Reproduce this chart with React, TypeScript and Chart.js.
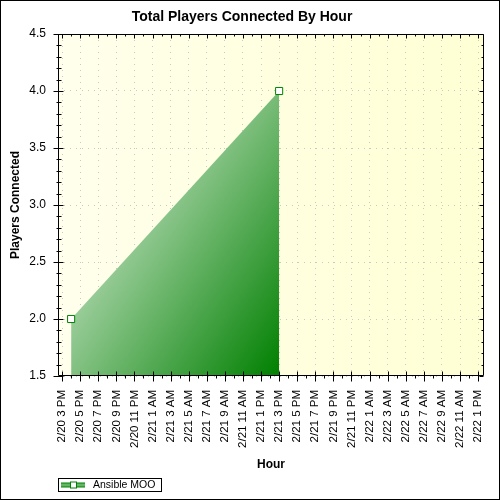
import React, { useEffect, useRef } from 'react';
import { Chart, registerables } from 'chart.js';

Chart.register(...registerables);

const chartTitle = 'Total Players Connected By Hour';
const xAxisTitle = 'Hour';
const yAxisTitle = 'Players Connected';
const seriesName = 'Ansible MOO';

// Major tick labels, one every 2 hours starting at 2/20 3 PM (hour 0)
const xTickLabels = [
  '2/20 3 PM', '2/20 5 PM', '2/20 7 PM', '2/20 9 PM', '2/20 11 PM',
  '2/21 1 AM', '2/21 3 AM', '2/21 5 AM', '2/21 7 AM', '2/21 9 AM', '2/21 11 AM',
  '2/21 1 PM', '2/21 3 PM', '2/21 5 PM', '2/21 7 PM', '2/21 9 PM', '2/21 11 PM',
  '2/22 1 AM', '2/22 3 AM', '2/22 5 AM', '2/22 7 AM', '2/22 9 AM', '2/22 11 AM',
  '2/22 1 PM',
];

// Series: hours after 2/20 3 PM, and players connected
const seriesHours = [1, 24];
const seriesValues = [2.0, 4.0];

// Axis bounds
const xMin = -0.45;
const xMax = 46.65;
const yMin = 1.5;
const yMax = 4.5;

const FONT = '"Liberation Sans", Arial, sans-serif';

export default function App() {
  const ref = useRef<HTMLCanvasElement>(null);

  useEffect(() => {
    document.body.style.margin = '0';
    document.body.style.overflow = 'hidden';
    const canvas = ref.current;
    if (!canvas) return;

    const align = (v: number) => Math.round(v) + 0.5;

    const framePlugin = {
      id: 'framePlugin',
      beforeDraw(chart: any) {
        const { ctx, chartArea: a } = chart;
        ctx.save();
        ctx.fillStyle = '#ffffff';
        ctx.fillRect(0, 0, chart.width, chart.height);
        const g = ctx.createLinearGradient(a.left, 0, a.right, 0);
        g.addColorStop(0, 'rgb(255,255,236)');
        g.addColorStop(1, 'rgb(255,255,212)');
        ctx.fillStyle = g;
        ctx.fillRect(a.left, a.top, a.right - a.left, a.bottom - a.top);
        ctx.restore();
      },
      afterDraw(chart: any) {
        const { ctx, chartArea: a, scales } = chart;
        const xs = scales.x;
        const ys = scales.y;
        const L = Math.round(a.left) + 0.5;
        const T = Math.round(a.top) + 0.5;
        const R = Math.round(a.right) - 0.5;
        const B = Math.round(a.bottom) - 0.5;
        ctx.save();
        ctx.strokeStyle = '#000';
        ctx.lineWidth = 1;
        ctx.setLineDash([]);
        ctx.beginPath();
        ctx.rect(L, T, R - L, B - T);
        // x ticks (major every 2h, minor every 1h)
        for (let h = Math.ceil(xMin); h <= Math.floor(xMax); h++) {
          const px = align(xs.getPixelForValue(h));
          const major = h % 2 === 0;
          if (major) {
            ctx.moveTo(px, B - 4); ctx.lineTo(px, B + 6);
            ctx.moveTo(px, T); ctx.lineTo(px, T + 4);
          } else {
            ctx.moveTo(px, B); ctx.lineTo(px, B + 3);
            ctx.moveTo(px, T); ctx.lineTo(px, T + 2);
          }
        }
        // y ticks (major every 0.5, minor every 0.1)
        for (let k = Math.round(yMin * 10); k <= Math.round(yMax * 10); k++) {
          const py = align(ys.getPixelForValue(k / 10));
          const major = k % 5 === 0;
          if (major) {
            ctx.moveTo(L - 5, py); ctx.lineTo(L + 5, py);
            ctx.moveTo(R, py); ctx.lineTo(R - 4, py);
          } else {
            ctx.moveTo(L - 2, py); ctx.lineTo(L + 3, py);
            ctx.moveTo(R, py); ctx.lineTo(R - 2, py);
          }
        }
        ctx.stroke();

        // legend
        const lx = L;
        const ly = chart.height - 21.5;
        ctx.strokeRect(lx, ly, 103, 13);
        const sy = ly + 6.5;
        const sg = ctx.createLinearGradient(0, sy - 2.5, 0, sy + 2.5);
        sg.addColorStop(0, '#008000');
        sg.addColorStop(0.5, '#7cc47c');
        sg.addColorStop(1, '#008000');
        ctx.fillStyle = sg;
        ctx.fillRect(lx + 2.5, sy - 2.5, 24, 5);
        ctx.fillStyle = '#ffffff';
        ctx.fillRect(lx + 11.5, sy - 3.5, 7, 7);
        ctx.strokeStyle = '#008000';
        ctx.strokeRect(lx + 12, sy - 3, 6, 6);
        ctx.fillStyle = '#000';
        ctx.font = `10.5px ${FONT}`;
        ctx.textBaseline = 'middle';
        ctx.textAlign = 'left';
        ctx.fillText(chart.data.datasets[0].label, lx + 34.5, sy + 0.5);

        // outer border
        ctx.strokeStyle = '#000';
        ctx.strokeRect(0.5, 0.5, chart.width - 1, chart.height - 1);
        ctx.restore();
      },
    };

    const fillGradient = (c: any) => {
      const chart = c.chart;
      const { chartArea, scales } = chart;
      if (!chartArea || !scales.x) return 'rgba(0,128,0,0.6)';
      const x1 = scales.x.getPixelForValue(seriesHours[0]);
      const x2 = scales.x.getPixelForValue(seriesHours[seriesHours.length - 1]);
      const yb = chartArea.bottom;
      const w = x2 - x1;
      const g = chart.ctx.createLinearGradient(x2 - 1.3 * w, yb - 0.88 * w, x2, yb);
      g.addColorStop(0, 'rgb(245,250,245)');
      g.addColorStop(1, 'rgb(0,128,0)');
      return g;
    };

    const chart = new Chart(canvas, {
      type: 'line',
      data: {
        datasets: [
          {
            label: seriesName,
            data: seriesHours.map((h, i) => ({ x: h, y: seriesValues[i] })),
            fill: 'start',
            borderWidth: 0,
            borderColor: 'rgba(0,0,0,0)',
            backgroundColor: fillGradient,
            pointStyle: 'rect',
            pointRadius: 5,
            pointBorderWidth: 1,
            pointBorderColor: '#008000',
            pointBackgroundColor: '#ffffff',
            tension: 0,
          },
        ],
      },
      options: {
        responsive: false,
        animation: false,
        devicePixelRatio: 1,
        layout: { padding: { left: 0, right: 16, top: 0, bottom: 25 } },
        plugins: {
          legend: { display: false },
          tooltip: { enabled: false },
          title: {
            display: true,
            text: chartTitle,
            color: '#000',
            font: { family: FONT, size: 14, weight: 'bold' },
            padding: { top: 9, bottom: 8.2 },
          },
        },
        scales: {
          x: {
            type: 'linear',
            min: xMin,
            max: xMax,
            afterFit: (s: any) => { s.height = 99; s.paddingLeft = 0; s.paddingRight = 0; },
            ticks: {
              stepSize: 2,
              includeBounds: false,
              autoSkip: false,
              minRotation: 90,
              maxRotation: 90,
              padding: 14,
              color: '#000',
              font: { family: FONT, size: 11.5 },
              callback: (v: any) => xTickLabels[Math.round(Number(v) / 2)] ?? '',
            },
            grid: { color: '#c8c8c8', drawTicks: false },
            border: { display: false, dash: [1, 5] },
            title: {
              display: true,
              text: xAxisTitle,
              color: '#000',
              font: { family: FONT, size: 12, weight: 'bold' },
              padding: { top: 0, bottom: 3 },
            },
          },
          y: {
            type: 'linear',
            min: yMin,
            max: yMax,
            afterFit: (s: any) => { s.width = 58; s.paddingTop = 0; s.paddingBottom = 0; },
            ticks: {
              stepSize: 0.5,
              padding: 12,
              color: '#000',
              font: { family: FONT, size: 12 },
              callback: (v: any) => Number(v).toFixed(1),
            },
            grid: { color: '#c8c8c8', drawTicks: false },
            border: { display: false, dash: [1, 5] },
            title: {
              display: true,
              text: yAxisTitle,
              color: '#000',
              font: { family: FONT, size: 12, weight: 'bold' },
              padding: { top: 8, bottom: 0 },
            },
          },
        },
      },
      plugins: [framePlugin],
    } as any);

    return () => chart.destroy();
  }, []);

  return (
    <canvas ref={ref} width={500} height={500} style={{ display: 'block', width: 500, height: 500 }} />
  );
}
